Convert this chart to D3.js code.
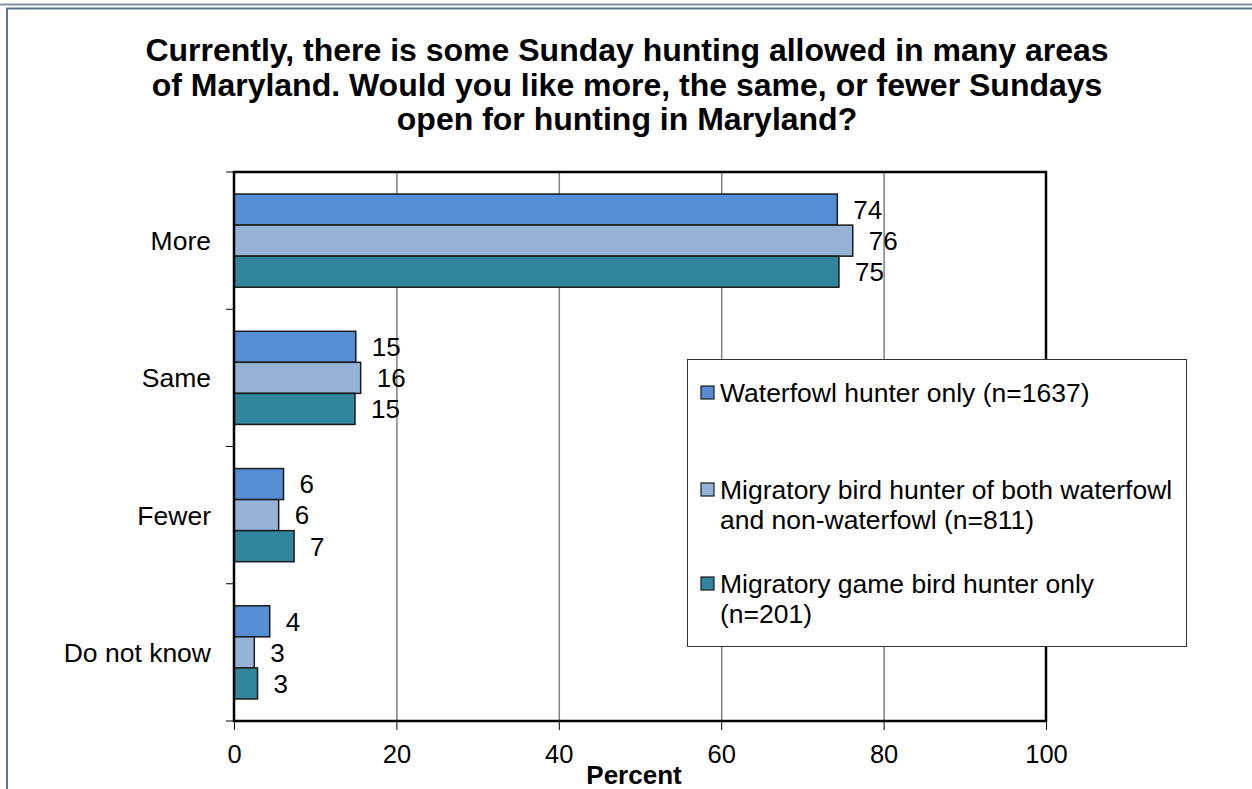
<!DOCTYPE html>
<html>
<head>
<meta charset="utf-8">
<script src="https://cdn.jsdelivr.net/npm/d3@7"></script>
<style>
  html, body { margin: 0; padding: 0; background: #fff; }
  svg { display: block; font-family: Arial, "Liberation Sans", sans-serif; }
</style>
</head>
<body>
<svg id="chart" width="1252" height="789"></svg>
<script>
// ---- data ----
const categories = ["More", "Same", "Fewer", "Do not know"];
const seriesNames = [
  ["Waterfowl hunter only (n=1637)"],
  ["Migratory bird hunter of both waterfowl", "and non-waterfowl (n=811)"],
  ["Migratory game bird hunter only", "(n=201)"]
];
const waterfowlValues = [74.3, 15.0, 6.1, 4.4];
const bothValues      = [76.2, 15.6, 5.5, 2.5];
const gameBirdValues  = [74.5, 14.9, 7.4, 2.9];
const waterfowlLabels = ["74", "15", "6", "4"];
const bothLabels      = ["76", "16", "6", "3"];
const gameBirdLabels  = ["75", "15", "7", "3"];
const xTicks = [0, 20, 40, 60, 80, 100];
const titleLines = [
  "Currently, there is some Sunday hunting allowed in many areas",
  "of Maryland. Would you like more, the same, or fewer Sundays",
  "open for hunting in Maryland?"
];
const xAxisTitle = "Percent";

const colors = ["#558ed5", "#95b3d7", "#31859c"];
const seriesValues = [waterfowlValues, bothValues, gameBirdValues];
const seriesLabels = [waterfowlLabels, bothLabels, gameBirdLabels];

const svg = d3.select("#chart");

// outer frame
svg.append("line").attr("x1", 0).attr("x2", 1252).attr("y1", 4.5).attr("y2", 4.5)
  .attr("stroke", "#7f8fa6").attr("stroke-width", 2);
svg.append("rect").attr("x", 7).attr("y", 8.5).attr("width", 1400).attr("height", 1000)
  .attr("fill", "none").attr("stroke", "#5f7494").attr("stroke-width", 2);

// title
const title = svg.append("text").attr("text-anchor", "middle")
  .attr("font-weight", "bold").attr("font-size", 32).attr("fill", "#000");
titleLines.forEach((t, i) => {
  title.append("tspan").attr("x", 627).attr("y", 61 + i * 34.5).text(t);
});

// plot area
const L = 234, R = 1046, T = 172, B = 721;
const x = d3.scaleLinear().domain([0, 100]).range([L, R]);
const y = d3.scaleBand().domain(categories).range([T, B]).paddingInner(0).paddingOuter(0);
const inner = d3.scaleBand().domain([0, 1, 2]).range([0, y.bandwidth()]).paddingOuter(0.71).paddingInner(0);

// gridlines
svg.append("g").selectAll("line").data(xTicks.filter(d => d > 0 && d < 100)).join("line")
  .attr("x1", d => x(d) + 0.5).attr("x2", d => x(d) + 0.5)
  .attr("y1", T).attr("y2", B).attr("stroke", "#808080").attr("stroke-width", 1.5);

// bars
seriesValues.forEach((vals, s) => {
  const g = svg.append("g");
  g.selectAll("rect").data(categories).join("rect")
    .attr("x", x(0))
    .attr("y", (c) => y(c) + inner(s))
    .attr("width", (c, i) => x(vals[i]) - x(0))
    .attr("height", inner.bandwidth())
    .attr("fill", colors[s])
    .attr("stroke", "#1a1a1a").attr("stroke-width", 1.5);
  g.selectAll("text").data(categories).join("text")
    .attr("x", (c, i) => x(vals[i]) + 16)
    .attr("y", (c) => y(c) + inner(s) + inner.bandwidth() / 2)
    .attr("dy", "0.36em")
    .attr("font-size", 26)
    .attr("fill", "#000")
    .text((c, i) => seriesLabels[s][i]);
});

// plot border
svg.append("rect").attr("x", L).attr("y", T).attr("width", R - L).attr("height", B - T)
  .attr("fill", "none").attr("stroke", "#000").attr("stroke-width", 2.5);

// x axis
const xAxis = d3.axisBottom(x).tickValues(xTicks).tickSize(9).tickPadding(15);
const xg = svg.append("g").attr("transform", `translate(0,${B})`).call(xAxis);
xg.select(".domain").remove();
xg.selectAll("line").attr("stroke", "#000").attr("stroke-width", 1);
xg.selectAll("text").attr("font-size", 25.5).attr("font-family", "Arial, 'Liberation Sans', sans-serif").attr("fill", "#000");

// y axis: ticks at band boundaries
const yBoundaries = categories.map(c => y(c)).concat([B]);
svg.append("g").selectAll("line").data(yBoundaries).join("line")
  .attr("x1", L - 8).attr("x2", L).attr("y1", d => d).attr("y2", d => d)
  .attr("stroke", "#000").attr("stroke-width", 1);
svg.append("g").selectAll("text").data(categories).join("text")
  .attr("x", 211).attr("y", c => y(c) + y.bandwidth() / 2)
  .attr("dy", "0.36em").attr("text-anchor", "end")
  .attr("font-size", 26.5).attr("fill", "#000").text(c => c);

// x-axis title
svg.append("text").attr("x", 634).attr("y", 784).attr("text-anchor", "middle")
  .attr("font-weight", "bold").attr("font-size", 26).attr("fill", "#000").text(xAxisTitle);

// legend
const lg = svg.append("g");
lg.append("rect").attr("x", 687.5).attr("y", 359.5).attr("width", 499).attr("height", 287)
  .attr("fill", "#fff").attr("stroke", "#333").attr("stroke-width", 1);
const legendY = [392, 489, 583];
seriesNames.forEach((lines, s) => {
  lg.append("rect").attr("x", 701).attr("y", legendY[s] - 6).attr("width", 13).attr("height", 13)
    .attr("fill", colors[s]).attr("stroke", "#1a1a1a").attr("stroke-width", 1.2);
  const t = lg.append("text").attr("font-size", 26.5).attr("fill", "#000");
  lines.forEach((ln, j) => {
    t.append("tspan").attr("x", 720).attr("y", legendY[s] + j * 30).attr("dy", "0.36em").text(ln);
  });
});
</script>
</body>
</html>
